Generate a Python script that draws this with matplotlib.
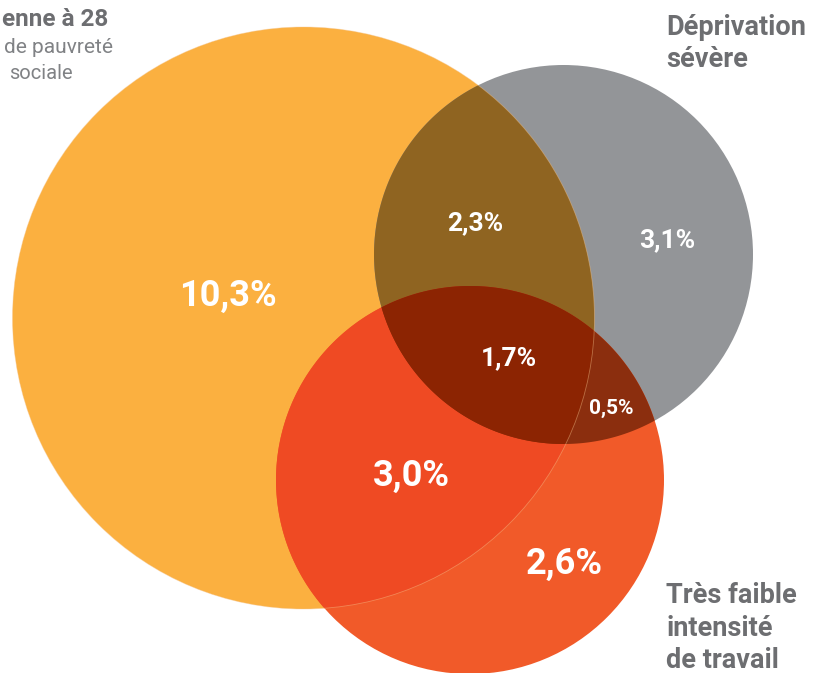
import numpy as np
import matplotlib
matplotlib.use("Agg")
import matplotlib.pyplot as plt
from matplotlib.patches import Circle, Polygon

# ---- data ----
set_names = ["Risque de pauvreté", "Déprivation sévère", "Très faible intensité de travail"]
region_labels = ["10,3%", "3,1%", "2,6%", "2,3%", "3,0%", "0,5%", "1,7%"]
# regions: A only, B only, C only, A&B, A&C, B&C, A&B&C

# ---- geometry (pixel coordinates) ----
circles = {
    "A": ((303.5, 318.0), 291.0),   # orange
    "B": ((563.5, 254.5), 189.5),   # gray
    "C": ((470.0, 480.0), 194.0),   # red
}
fill = {
    "A": "#FBB040", "B": "#939598", "C": "#F15A29",
    "AB": "#8F6421", "AC": "#EF4A23", "BC": "#8B2E0E", "ABC": "#8C2402",
}

fig = plt.figure(figsize=(8.16, 6.73), dpi=100)
ax = fig.add_axes([0, 0, 1, 1])
ax.set_xlim(0, 816)
ax.set_ylim(673, 0)
ax.set_aspect("equal")
ax.axis("off")


def boundary(c, r, n=4000):
    t = np.linspace(0, 2 * np.pi, n, endpoint=False)
    return np.column_stack([c[0] + r * np.cos(t), c[1] + r * np.sin(t)])


def intersection(keys):
    pts = []
    for k in keys:
        c, r = circles[k]
        p = boundary(c, r)
        ok = np.ones(len(p), bool)
        for k2 in keys:
            if k2 == k:
                continue
            c2, r2 = circles[k2]
            ok &= np.hypot(p[:, 0] - c2[0], p[:, 1] - c2[1]) <= r2 + 1e-9
        pts.append(p[ok])
    pts = np.vstack(pts)
    cen = pts.mean(axis=0)
    ang = np.arctan2(pts[:, 1] - cen[1], pts[:, 0] - cen[0])
    return pts[np.argsort(ang)]


for k in ["A", "B", "C"]:
    c, r = circles[k]
    ax.add_patch(Circle(c, r, facecolor=fill[k], edgecolor="none", zorder=1))
for keys in ["AB", "AC", "BC", "ABC"]:
    ax.add_patch(Polygon(intersection(list(keys)), closed=True,
                         facecolor=fill[keys], edgecolor="none", zorder=2))
# faint outline of the orange circle
c, r = circles["A"]
ax.add_patch(Circle(c, r, facecolor="none", edgecolor="#F6C58E", lw=0.6,
                    alpha=0.45, zorder=3))

# region value labels
label_pos = [(228, 296), (667, 240), (564, 564), (475, 223), (411, 476), (611, 408), (509, 358)]
label_size = [26, 19, 26, 19, 26, 15, 19]
for txt, (x, y), s in zip(region_labels, label_pos, label_size):
    ax.text(x, y, txt, color="white", fontsize=s, fontweight="bold",
            family="Roboto", ha="center", va="center", zorder=5)

# set names
gray_dark = "#6D6E71"
ax.text(666, 35, "Déprivation", color=gray_dark, fontsize=19.5, fontweight="bold",
        family="Roboto", ha="left", va="baseline")
ax.text(666, 67, "sévère", color=gray_dark, fontsize=19.5, fontweight="bold",
        family="Roboto", ha="left", va="baseline")
for i, line in enumerate(["Très faible", "intensité", "de travail"]):
    ax.text(666, 603 + i * 32.5, line, color=gray_dark, fontsize=19.5, fontweight="bold",
            family="Roboto", ha="left", va="baseline")

ax.text(108, 26, "enne à 28", color=gray_dark, fontsize=17.5, fontweight="bold",
        family="Roboto", ha="right", va="baseline")
ax.text(113, 53, "de pauvreté", color="#808285", fontsize=15,
        family="Roboto", ha="right", va="baseline")
ax.text(73, 79, "sociale", color="#808285", fontsize=14.5,
        family="Roboto", ha="right", va="baseline")

fig.savefig("out.png", dpi=100)
